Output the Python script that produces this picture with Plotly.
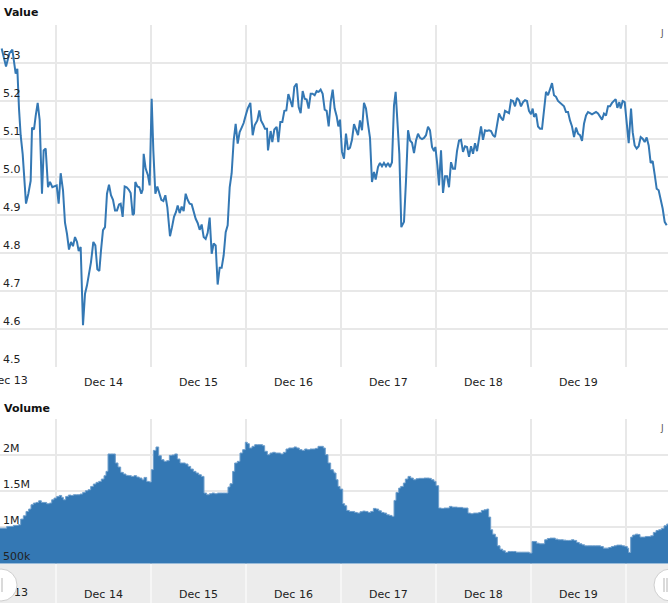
import pandas as pd
import plotly.graph_objects as go

# Hours after Dec 14 00:00 and the value read at that time
value_hours = [
    -13.73, -12.63, -11.79, -11.03, -10.19, -9.77, -9.35, -8.93, -8.42, -8.08,
    -7.58, -6.99, -6.40, -6.06, -5.56, -5.14, -4.63, -4.13, -3.54, -3.12,
    -2.61, -2.02, -1.52, -0.93, -0.42, 0.17, 0.67, 1.18, 1.77, 2.27,
    2.78, 3.28, 3.79, 4.29, 4.80, 5.31, 5.73, 6.23, 6.82, 7.33,
    7.83, 8.34, 8.84, 9.43, 9.94, 10.44, 10.95, 11.37, 11.87, 12.38,
    12.88, 13.39, 13.89, 14.40, 14.91, 15.41, 15.92, 16.34, 16.84, 17.35,
    17.85, 18.36, 18.86, 19.37,
    19.71, 20.04, 20.55, 21.05, 21.56, 21.90, 22.15, 22.65, 23.24, 23.66,
    24.17, 24.59, 25.10, 25.60, 26.11, 26.61, 27.12, 27.62, 28.13, 28.80,
    29.31, 29.81, 30.32, 30.74, 31.24, 31.75, 32.25, 32.76, 33.26, 33.77,
    34.28, 34.78, 35.29, 35.79, 36.30, 36.80, 37.31, 37.81, 38.32, 38.82,
    39.33, 39.83, 40.34, 40.84, 41.35, 41.85, 42.36, 42.87, 43.37, 43.88,
    44.38, 44.89, 45.39, 45.90, 46.40, 46.91, 47.41, 47.92, 48.42, 49.10,
    49.69, 50.19, 50.87, 51.37, 51.79, 52.30, 52.80, 53.31, 53.56,
    54.23, 54.65, 55.16, 55.75, 56.17, 56.68, 57.18, 57.69, 58.19, 58.70,
    59.20, 59.71, 60.21, 60.80, 61.31, 61.81, 62.32, 62.82, 63.33, 63.83,
    64.34, 64.84, 65.35, 65.85, 66.36, 66.86, 67.37, 67.88, 68.38, 68.89,
    69.39, 69.90, 70.40, 70.91, 71.33, 71.75, 72.25, 72.76, 73.26, 73.77,
    74.28, 74.78, 75.29, 75.79, 76.30, 76.80, 77.31, 77.81, 78.32, 78.82,
    79.33, 79.83, 80.34, 80.76, 81.35, 81.85, 82.36, 82.86, 83.37, 83.88,
    84.38, 84.89, 85.39, 85.81, 86.23, 86.74, 87.24,
    87.92, 88.43, 88.94, 89.44, 89.95, 90.45, 90.96, 91.46, 91.97, 92.47,
    92.98, 93.48, 93.99, 94.49, 95.00, 95.50, 95.84, 96.35, 96.77, 97.27,
    97.78, 98.28, 98.79, 99.29, 99.80, 100.30, 100.81, 101.31, 101.82, 102.33,
    102.83, 103.34, 103.84, 104.35, 104.85, 105.36, 105.86, 106.37, 106.87, 107.38,
    107.88, 108.39, 108.89, 109.40, 109.90, 110.41, 110.91, 111.42, 111.92, 112.43,
    112.94, 113.44, 113.95, 114.45, 114.96, 115.46, 115.97, 116.47, 116.98, 117.48,
    117.99, 118.49, 119.00, 119.50, 120.01, 120.43,
    120.77, 121.28, 121.78, 122.29, 122.79, 123.30, 123.80, 124.31, 124.81, 125.32,
    125.82, 126.33, 126.83, 127.34, 127.84, 128.35, 128.85, 129.36, 129.86, 130.37,
    130.88, 131.38, 131.89, 132.39, 132.90, 133.40, 133.91, 134.41, 134.92, 135.42,
    135.93, 136.43, 136.94, 137.44, 137.95, 138.45, 138.96, 139.46, 139.97, 140.48,
    140.98, 141.40, 141.82, 142.33, 142.66, 143.17, 143.68, 144.18, 144.69, 145.28,
    145.70, 146.20, 146.71, 147.21, 147.72, 148.22, 148.73, 149.23, 149.74, 150.24,
    150.75, 151.25, 151.76, 152.26, 152.77, 153.27, 153.78, 154.29,
]
value_prices = [
    5.338, 5.291, 5.325, 5.335, 5.272, 5.285, 5.18, 5.11, 5.06, 5.0,
    4.93, 4.956, 4.99, 5.13, 5.125, 5.16, 5.195, 5.15, 4.956, 5.07,
    5.075, 4.973, 4.987, 4.973, 4.975, 4.978, 4.93, 5.01, 4.965, 4.88,
    4.85, 4.809, 4.829, 4.818, 4.842, 4.829, 4.805, 4.816, 4.61, 4.693,
    4.715, 4.745, 4.776, 4.829, 4.82, 4.757, 4.753, 4.807, 4.86, 4.868,
    4.956, 4.98, 4.952, 4.94, 4.912, 4.912, 4.928, 4.93, 4.895, 4.975,
    4.973, 4.967, 4.958, 4.90,
    4.904, 4.987, 4.975, 4.973, 4.956, 4.967, 5.061, 5.022, 5.004, 4.978,
    5.206, 5.07, 4.956, 4.975, 4.96, 4.94, 4.937, 4.952, 4.92, 4.844,
    4.868, 4.895, 4.908, 4.925, 4.905, 4.922, 4.91, 4.956, 4.94, 4.93,
    4.928, 4.905, 4.89, 4.879, 4.861, 4.875, 4.842, 4.837, 4.853, 4.893,
    4.798, 4.825, 4.82, 4.717, 4.761, 4.761, 4.794, 4.855, 4.873, 4.973,
    5.01, 5.096, 5.14, 5.088, 5.118, 5.13, 5.142, 5.162, 5.18, 5.195,
    5.11, 5.136, 5.149, 5.175, 5.149, 5.139, 5.127, 5.127, 5.07,
    5.121, 5.092, 5.125, 5.132, 5.092, 5.145, 5.145, 5.174, 5.175, 5.218,
    5.202, 5.184, 5.237, 5.246, 5.184, 5.168, 5.226, 5.206, 5.204, 5.18,
    5.219, 5.219, 5.215, 5.226, 5.224, 5.23, 5.219, 5.177, 5.174, 5.133,
    5.197, 5.23, 5.18, 5.16, 5.133, 5.151, 5.066, 5.048, 5.114, 5.072,
    5.077, 5.098, 5.139, 5.127, 5.11, 5.149, 5.123, 5.195, 5.18, 5.14,
    5.103, 4.987, 5.013, 4.993, 5.026, 5.037, 5.028, 5.037, 5.028, 5.037,
    5.026, 5.039, 5.188, 5.224, 5.149, 5.061, 4.868,
    4.882, 4.991, 5.123, 5.096, 5.09, 5.063, 5.096, 5.114, 5.103, 5.1,
    5.103, 5.11, 5.132, 5.123, 5.079, 5.068, 5.079, 5.031, 4.978, 5.07,
    4.958, 5.002, 5.002, 4.973, 5.039, 5.022, 5.022, 5.068, 5.096, 5.098,
    5.066, 5.081, 5.079, 5.053, 5.081, 5.061, 5.089, 5.068, 5.1, 5.133,
    5.098, 5.123, 5.121, 5.123, 5.121, 5.11, 5.105, 5.14, 5.167, 5.156,
    5.149, 5.174, 5.171, 5.168, 5.202, 5.2, 5.186, 5.208, 5.202, 5.186,
    5.197, 5.202, 5.2, 5.174, 5.165, 5.18,
    5.158, 5.167, 5.133, 5.127, 5.127, 5.175, 5.224, 5.215, 5.232, 5.247,
    5.215, 5.211, 5.2, 5.195, 5.189, 5.186, 5.171, 5.171, 5.149, 5.133,
    5.105, 5.13, 5.114, 5.11, 5.095, 5.14, 5.162, 5.171, 5.168, 5.165,
    5.168, 5.171, 5.167, 5.16, 5.151, 5.167, 5.162, 5.186, 5.186, 5.195,
    5.2, 5.205, 5.182, 5.197, 5.18, 5.2, 5.197, 5.149, 5.089, 5.18,
    5.118, 5.083, 5.075, 5.081, 5.105, 5.101, 5.092, 5.104, 5.083, 5.037,
    5.042, 5.007, 4.969, 4.965, 4.943, 4.917, 4.882, 4.873,
]

# Volume (millions), step series
volume_hours = [
    -14.15, -12.46, -10.78, -9.52, -8.93, -8.25, -7.58, -6.91, -6.32, -5.73,
    -5.05, -4.38, -3.71, -3.03, -2.36, -1.68, -1.09, -0.51, 0.17, 0.84,
    1.43, 1.85, 2.44, 3.12, 3.79, 4.38, 5.22, 6.06, 6.74, 7.41,
    8.08, 8.76, 9.43, 10.11, 10.78, 11.45, 12.13, 12.63, 13.14, 13.81,
    14.48, 14.99, 15.66, 16.34, 17.01, 17.68, 18.36, 19.03, 19.71, 20.38,
    21.05, 21.73, 22.23, 22.91, 23.58, 24.08, 24.59, 25.26, 25.94, 26.61,
    27.28, 27.96, 28.63, 29.31, 29.98, 30.65, 31.33, 32.00, 32.67, 33.35,
    34.02, 34.69, 35.37, 36.04, 36.72, 37.39, 38.06, 38.74, 39.41, 40.08,
    40.76, 41.43, 42.11, 42.78, 43.45, 43.96, 44.63, 45.14, 45.81, 46.48,
    47.16, 47.83, 48.34, 48.84, 49.52, 50.19, 50.86, 51.54, 52.21, 52.72,
    53.39, 54.06, 54.74, 55.41, 56.08, 56.76, 57.43, 58.11, 58.78, 59.45,
    60.13, 60.80, 61.47, 62.15, 62.82, 63.49, 64.17, 64.84, 65.52, 66.19,
    66.86, 67.54, 68.04, 68.72, 69.39, 70.06,
    70.24, 70.75, 71.25, 71.76, 72.43, 72.93, 73.44, 74.11, 74.79, 75.46,
    76.13, 76.81, 77.48, 78.16, 78.83, 79.50, 80.18, 80.85, 81.52, 82.20,
    82.87, 83.54, 84.22, 84.89, 85.40, 85.90, 86.58, 87.08, 87.76, 88.26,
    88.93, 89.61, 90.28, 90.96, 91.63, 92.30, 92.98, 93.65, 94.32, 94.83,
    95.50, 96.01, 96.68, 97.36, 98.03, 98.70, 99.38, 100.05, 100.72, 101.40,
    102.07, 102.75, 103.42, 104.09, 104.77, 105.44, 106.11, 106.79, 107.46, 108.13,
    108.81, 109.31, 109.82, 110.32, 111.00, 111.50, 112.18, 112.85, 113.52, 114.20,
    114.87, 115.55, 116.22, 116.89, 117.57, 118.24, 118.91, 119.59, 120.26, 120.77,
    121.44, 122.11, 122.79, 123.46, 124.13, 124.81, 125.48, 126.16, 126.83, 127.50,
    128.18, 128.85, 129.52, 130.20, 130.87, 131.55, 132.22, 132.89, 133.57, 134.24,
    134.91, 135.59, 136.26, 136.93, 137.61, 138.28, 138.96, 139.63, 140.30, 140.98,
    141.65, 142.32, 143.00, 143.67, 144.34, 144.68, 145.19, 145.69, 146.37, 147.04,
    147.55, 148.22, 148.89, 149.57, 150.24, 150.91, 151.59, 152.26, 152.94, 153.61,
    154.28, 154.62,
]
volume_millions = [
    0.99, 1.014, 1.028, 1.037, 1.116, 1.162, 1.222, 1.255, 1.315, 1.338,
    1.347, 1.37, 1.347, 1.347, 1.329, 1.338, 1.384, 1.407, 1.43, 1.444,
    1.417, 1.384, 1.43, 1.449, 1.444, 1.454, 1.454, 1.463, 1.486, 1.509,
    1.523, 1.569, 1.602, 1.625, 1.639, 1.671, 1.718, 1.778, 2.019, 2.019,
    2.019, 1.894, 1.838, 1.764, 1.741, 1.722, 1.718, 1.708, 1.718, 1.699,
    1.685, 1.662, 1.694, 1.639, 1.63, 1.801, 2.069, 2.116, 1.995, 1.94,
    1.917, 1.926, 2.0, 2.005, 2.019, 1.949, 1.894, 1.894, 1.88, 1.847,
    1.81, 1.778, 1.755, 1.731, 1.708, 1.477, 1.454, 1.468, 1.477, 1.468,
    1.477, 1.477, 1.477, 1.477, 1.56, 1.606, 1.778, 1.894, 1.917, 2.032,
    2.079, 2.181, 2.162, 2.102, 2.125, 2.148, 2.148, 2.148, 2.134, 2.056,
    2.009, 2.032, 2.042, 2.032, 2.032, 2.019, 2.042, 2.088, 2.102, 2.102,
    2.116, 2.102, 2.079, 2.069, 2.088, 2.079, 2.088, 2.088, 2.097, 2.125,
    2.125, 2.102, 2.009, 1.894, 1.801, 1.778,
    1.755, 1.662, 1.569, 1.532, 1.329, 1.301, 1.236, 1.222, 1.222, 1.208,
    1.199, 1.218, 1.227, 1.222, 1.208, 1.222, 1.264, 1.255, 1.231, 1.208,
    1.199, 1.176, 1.167, 1.153, 1.375, 1.486, 1.546, 1.569, 1.616, 1.671,
    1.708, 1.685, 1.662, 1.676, 1.681, 1.681, 1.685, 1.685, 1.681, 1.662,
    1.639, 1.579, 1.269, 1.264, 1.269, 1.269, 1.292, 1.282, 1.282, 1.278,
    1.278, 1.269, 1.269, 1.199, 1.19, 1.199, 1.199, 1.208, 1.236, 1.245,
    1.255, 1.144, 0.968, 0.907, 0.866, 0.745, 0.699, 0.676, 0.653, 0.667,
    0.667, 0.667, 0.657, 0.657, 0.657, 0.657, 0.657, 0.644, 0.806, 0.806,
    0.782, 0.773, 0.773, 0.829, 0.847, 0.852, 0.852, 0.838, 0.829, 0.829,
    0.824, 0.82, 0.82, 0.829, 0.82, 0.792, 0.773, 0.759, 0.745, 0.745,
    0.745, 0.745, 0.745, 0.745, 0.736, 0.713, 0.713, 0.722, 0.736, 0.745,
    0.755, 0.755, 0.745, 0.736, 0.713, 0.653, 0.866, 0.894, 0.907, 0.903,
    0.866, 0.866, 0.875, 0.875, 0.884, 0.931, 0.958, 0.968, 0.986, 1.023,
    1.046, 1.05,
]

value_ticks = [4.5, 4.6, 4.7, 4.8, 4.9, 5.0, 5.1, 5.2, 5.3, 5.4]
value_tick_text = ["4.5", "4.6", "4.7", "4.8", "4.9", "5.0", "5.1", "5.2", "5.3", ""]
volume_ticks = [0.5, 1.0, 1.5, 2.0, 2.5]
volume_tick_text = ["500k", "1M", "1.5M", "2M", ""]

base = pd.Timestamp("2014-12-14 00:00")
view_hours = (-14.15, 154.62)

BLUE = "#3478b4"
GRID = "#e8e8e8"
FONT = "DejaVu Sans, Verdana, sans-serif"
W, H = 668, 612


def to_time(hours):
    return base + pd.to_timedelta(hours, unit="h")


def py(px):
    # pixel row -> paper fraction
    return 1 - px / H


def px_x(px):
    return px / W


x_range = [to_time(view_hours[0]), to_time(view_hours[1])]
# the partly visible first day (Dec 13) gets no period label from plotly
first_day_mid = base - pd.Timedelta(hours=12)
first_day_label = (base - pd.Timedelta(days=1)).strftime("%b %d")

fig = go.Figure()

fig.add_trace(go.Scatter(
    x=to_time(value_hours), y=value_prices, mode="lines",
    line=dict(color=BLUE, width=2), xaxis="x", yaxis="y", hoverinfo="skip",
))
fig.add_trace(go.Scatter(
    x=to_time(volume_hours), y=volume_millions, mode="lines",
    line=dict(color="#6f9fcc", width=1, shape="hv"),
    fill="tozeroy", fillcolor=BLUE, xaxis="x2", yaxis="y2", hoverinfo="skip",
))
# navigator strip: its first (clipped) day label, drawn under the handle
fig.add_trace(go.Scatter(
    x=[first_day_mid], y=[0.26], mode="text", text=[first_day_label],
    textfont=dict(family=FONT, size=11, color="#222"),
    xaxis="x3", yaxis="y3", hoverinfo="skip", cliponaxis=True,
))

date_axis = dict(
    type="date", range=x_range, tick0=base, dtick=86400000,
    tickformat="%b %d", ticklabelmode="period", ticks="",
    showgrid=True, gridcolor=GRID, gridwidth=2, zeroline=False,
    showline=False, tickfont=dict(family=FONT, size=11, color="#222"),
    fixedrange=True,
)

fig.update_layout(
    width=W, height=H,
    margin=dict(l=0, r=0, t=0, b=0),
    paper_bgcolor="white", plot_bgcolor="rgba(0,0,0,0)",
    showlegend=False, hovermode=False,
    font=dict(family=FONT, size=11, color="#222"),
    xaxis=dict(date_axis, anchor="y", ticks="outside", ticklen=5,
               tickcolor="rgba(0,0,0,0)"),
    yaxis=dict(
        domain=[py(367), py(25)], range=[4.5, 5.4], anchor="x",
        tickvals=value_ticks, ticktext=value_tick_text,
        ticklabelposition="inside top", ticks="",
        showgrid=True, gridcolor=GRID, gridwidth=2, zeroline=False,
        tickfont=dict(family=FONT, size=11, color="#222"), fixedrange=True,
    ),
    xaxis2=dict(date_axis, anchor="y2", showticklabels=False),
    yaxis2=dict(
        domain=[py(563.5), py(419.3)], range=[0.5, 2.5], anchor="x2",
        tickvals=volume_ticks, ticktext=volume_tick_text,
        ticklabelposition="inside top", ticks="",
        showgrid=True, gridcolor=GRID, gridwidth=2, zeroline=False,
        tickfont=dict(family=FONT, size=11, color="#222"), fixedrange=True,
    ),
    xaxis3=dict(date_axis, anchor="y3", ticklabelposition="inside",
                gridcolor="#f6f6f6"),
    yaxis3=dict(
        domain=[py(603), py(564)], range=[0, 1], anchor="x3",
        showticklabels=False, showgrid=False, zeroline=False, fixedrange=True,
    ),
)

shapes = [
    # navigator strip background
    dict(type="rect", xref="x3 domain", yref="y3 domain", x0=0, x1=1, y0=0, y1=1,
         fillcolor="#ececec", line=dict(width=0), layer="below"),
]
# scroll handles at both ends of the navigator
for cx in (1, 670):
    shapes.append(dict(
        type="circle", xref="paper", yref="paper",
        x0=px_x(cx - 16), x1=px_x(cx + 16), y0=py(601), y1=py(569),
        fillcolor="white", line=dict(color="#cfcfcf", width=1), layer="above",
    ))
    for gx in (cx + 1, cx - 4) if cx < 10 else (cx - 6, cx - 3):
        shapes.append(dict(
            type="line", xref="paper", yref="paper",
            x0=px_x(gx), x1=px_x(gx), y0=py(592), y1=py(578),
            line=dict(color="#b5b5b5", width=1), layer="above",
        ))
fig.update_layout(shapes=shapes)

annotations = [
    dict(text="<b>Value</b>", x=px_x(2), y=py(12)),
    dict(text="<b>Volume</b>", x=px_x(2), y=py(408)),
    dict(text="J", x=px_x(658), y=py(33), font=dict(size=9, color="#555")),
    dict(text="J", x=px_x(658), y=py(428), font=dict(size=9, color="#555")),
]
for a in annotations:
    a.update(xref="paper", yref="paper", xanchor="left", yanchor="middle",
             showarrow=False)
    a.setdefault("font", dict(family=FONT, size=11, color="#111"))
# top panel's first (clipped) day label
annotations.append(dict(
    text=first_day_label, x=first_day_mid, xref="x", y=0, yref="y domain",
    xanchor="center", yanchor="top", yshift=-5, showarrow=False,
    font=dict(family=FONT, size=11, color="#222"),
))
fig.update_layout(annotations=annotations)

# the page body has a default 8px margin; drop it so the chart sits at 0,0
fig.write_html(
    "out.html",
    config=dict(displayModeBar=False),
    post_script="document.body.style.margin='0';document.body.style.overflow='hidden';",
)
